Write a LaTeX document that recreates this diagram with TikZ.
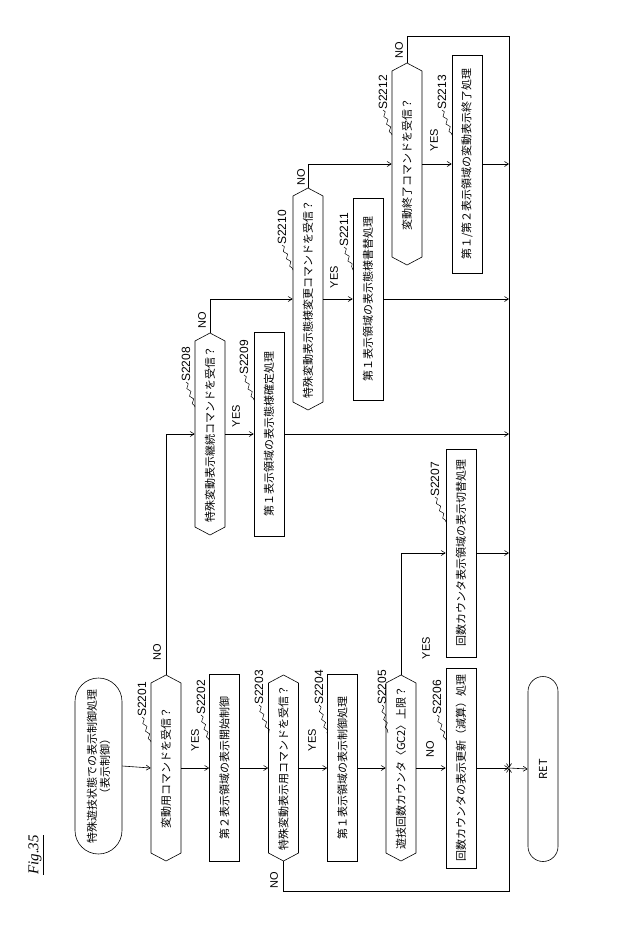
\documentclass[tikz,border=0pt]{standalone}
\usepackage{fontspec}
\setmainfont{Liberation Sans}
\newfontfamily\jp{Noto Sans CJK JP}
\newfontfamily\figf{Liberation Serif}
\usetikzlibrary{shapes.symbols,shapes.misc,arrows.meta,decorations.pathmorphing}
\begin{document}
\begin{tikzpicture}[x=1pt,y=-1pt,
  >={Straight Barb[length=4pt,width=5pt]},
  every node/.style={inner sep=0pt},
  jt/.style={font=\jp\fontsize{11}{13}\selectfont},
  proc/.style={jt,draw,rotate=90,minimum height=30,line width=0.6pt},
  dec/.style={jt,draw,rotate=90,signal,signal to=east and west,signal pointer angle=124,minimum height=30,line width=0.6pt},
  term/.style={jt,draw,rotate=90,rounded rectangle,minimum height=30,line width=0.6pt,align=center},
  lab/.style={rotate=90,anchor=west,font=\fontsize{12}{12}\selectfont},
  yn/.style={rotate=90,font=\fontsize{11}{11}\selectfont},
  tl/.style={decorate,decoration={snake,amplitude=1.5pt,segment length=8pt},line width=0.5pt},
  ln/.style={line width=0.6pt}]
\useasboundingbox (0,0) rectangle (622,929);
% main column
\node[term,minimum width=176,minimum height=47] (st) at (98.5,766) {特殊遊技状態での表示制御処理\\（表示制御）};
\node[dec,minimum width=186] (d1) at (166,768) {変動用コマンドを受信？};
\node[proc,minimum width=187] (b2) at (224.5,768) {第２表示領域の表示開始制御};
\node[dec,minimum width=186] (d3) at (283.5,768) {特殊変動表示用コマンドを受信？};
\node[proc,minimum width=187] (b4) at (342.5,768) {第１表示領域の表示制御処理};
\node[dec,minimum width=186] (d5) at (401,768) {遊技回数カウンタ〈GC2〉上限？};
\node[proc,minimum width=200] (b6) at (461,768) {回数カウンタの表示更新（減算）処理};
\node[term,minimum width=185] (ret) at (543,769) {RET};
\node[proc,minimum width=208] (b7) at (461,553) {回数カウンタ表示領域の表示切替処理};
\node[dec,minimum width=202] (d8) at (210,434) {特殊変動表示継続コマンドを受信？};
\node[proc,minimum width=204] (b9) at (269,434) {第１表示領域の表示態様確定処理};
\node[dec,minimum width=222] (d10) at (308,299) {特殊変動表示態様変更コマンドを受信？};
\node[proc,minimum width=202] (b11) at (368,299) {第１表示領域の表示態様書替処理};
\node[dec,minimum width=202] (d12) at (407,164) {変動終了コマンドを受信？};
\node[proc,minimum width=218] (b13) at (467,164) {第１/第２表示領域の変動表示終了処理};
\node[rotate=90,font=\figf\itshape\fontsize{15}{15}\selectfont] (fig) at (36,855) {\underline{Fig.35}};
% junctions
\coordinate (j) at (509,768);
\coordinate (tr) at (509,36);
\coordinate (bl) at (509,891);
\coordinate (r1) at (509,164);
\coordinate (r2) at (509,299);
\coordinate (r3) at (509,434);
\coordinate (r4) at (509,553);
% connectors
\draw[ln,->] (st.south) -- (d1.north);
\draw[ln,->] (d1.south) -- (b2.north);
\draw[ln,->] (b2.south) -- (d3.north);
\draw[ln,->] (d3.south) -- (b4.north);
\draw[ln,->] (b4.south) -- (d5.north);
\draw[ln,->] (d5.south) -- (b6.north);
\draw[ln,->] (b6.south) -- (j);
\draw[ln,->] (j) -- (ret.north);
\draw[ln,->] (d3.west) |- (bl) -- (j);
\draw[ln,->] (d12.east) |- (tr) -- (j);
\draw[ln,->] (d1.east) |- (d8.north);
\draw[ln,->] (d8.south) -- (b9.north);
\draw[ln,->] (b9.south) -- (r3);
\draw[ln,->] (d8.east) |- (d10.north);
\draw[ln,->] (d10.south) -- (b11.north);
\draw[ln,->] (b11.south) -- (r2);
\draw[ln,->] (d10.east) |- (d12.north);
\draw[ln,->] (d12.south) -- (b13.north);
\draw[ln,->] (b13.south) -- (r1);
\draw[ln,->] (d5.east) |- (b7.north);
\draw[ln,->] (b7.south) -- (r4);
% step labels
\node[lab] (l1) at (142,717) {S2201}; \draw[tl] (l1.west) -- (151,742);
\node[lab] (l2) at (201,715) {S2202}; \draw[tl] (l2.west) -- (209,740);
\node[lab] (l3) at (259,705) {S2203}; \draw[tl] (l3.west) -- (269,733);
\node[lab] (l4) at (319,705) {S2204}; \draw[tl] (l4.west) -- (327,733);
\node[lab] (l5) at (382,705) {S2205}; \draw[tl] (l5.west) -- (388,733);
\node[lab] (l6) at (437,715) {S2206}; \draw[tl] (l6.west) -- (446,740);
\node[lab] (l7) at (435,497) {S2207}; \draw[tl] (l7.west) -- (446,522);
\node[lab] (l8) at (186,382) {S2208}; \draw[tl] (l8.west) -- (195,407);
\node[lab] (l9) at (244,375) {S2209}; \draw[tl] (l9.west) -- (254,400);
\node[lab] (l10) at (282,245) {S2210}; \draw[tl] (l10.west) -- (293,270);
\node[lab] (l11) at (344,247) {S2211}; \draw[tl] (l11.west) -- (353,270);
\node[lab] (l12) at (383,110) {S2212}; \draw[tl] (l12.west) -- (392,135);
\node[lab] (l13) at (442,110) {S2213}; \draw[tl] (l13.west) -- (452,135);
% yes/no
\node[yn] (n1) at (157,652) {NO};
\node[yn] (y1) at (195,740) {YES};
\node[yn] (y3) at (312,740) {YES};
\node[yn] (n3) at (274,880) {NO};
\node[yn] (n5) at (430,749) {NO};
\node[yn] (y5) at (426,648) {YES};
\node[yn] (y8) at (236,416) {YES};
\node[yn] (n8) at (202,320) {NO};
\node[yn] (y10) at (334,277) {YES};
\node[yn] (n10) at (301,177) {NO};
\node[yn] (y12) at (434,140) {YES};
\node[yn] (n12) at (399,50) {NO};
\end{tikzpicture}
\end{document}
